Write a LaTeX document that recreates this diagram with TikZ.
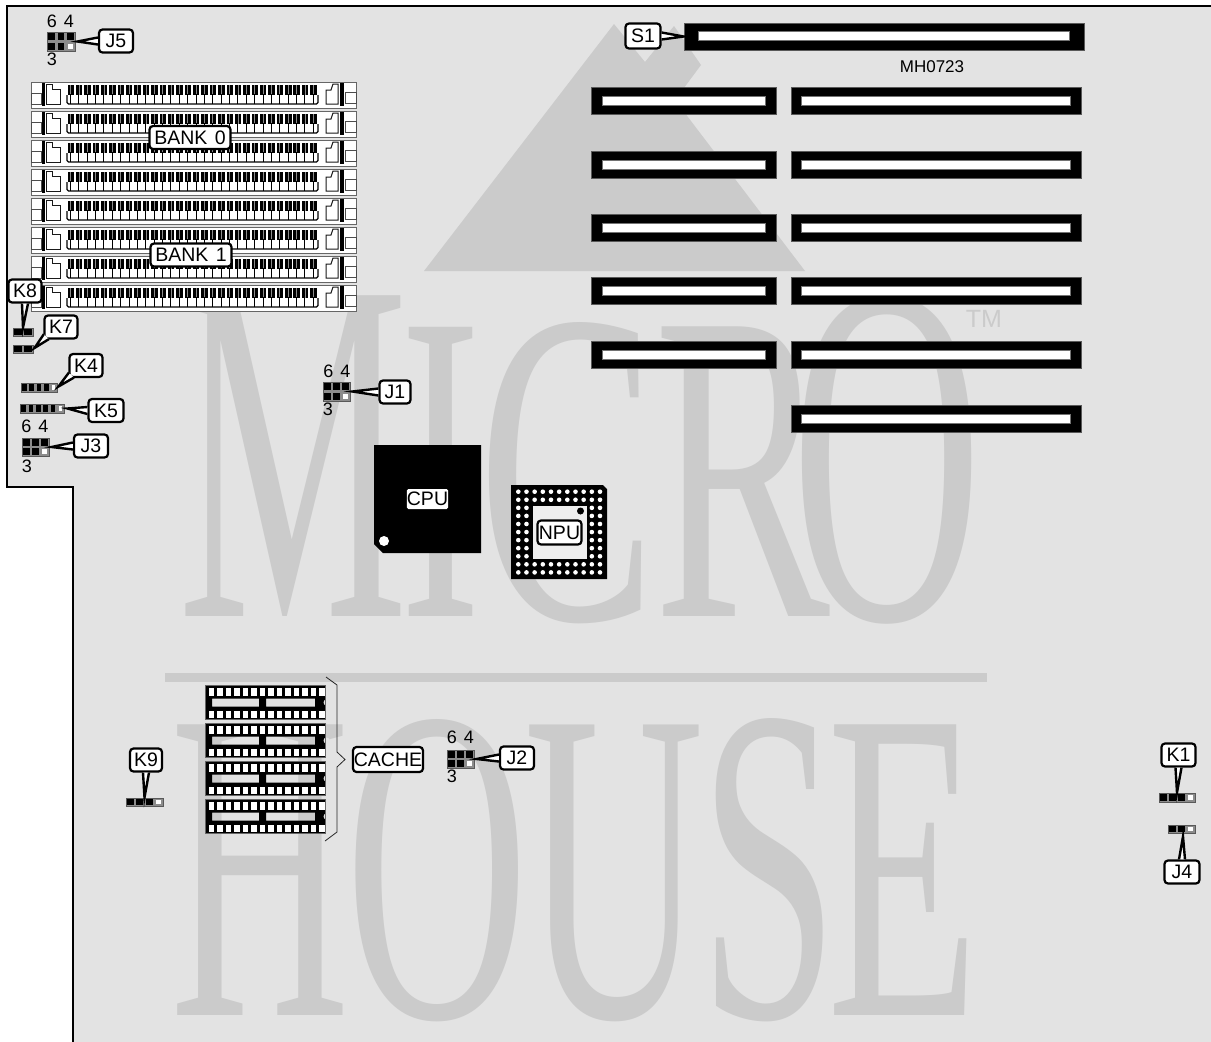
\documentclass[tikz,border=0pt]{standalone}
\usepackage{fontspec}
\setmainfont{Liberation Sans}
\newfontfamily\logofont{Liberation Serif}
\usetikzlibrary{calc}
\definecolor{board}{HTML}{E3E3E3}
\definecolor{wm}{HTML}{CBCBCB}
\tikzset{
  x=1pt,y=-1pt,
  lab/.style={draw=black,line width=2.2pt,rounded corners=3.5pt,fill=white,inner sep=0pt,
    font=\fontsize{19.5}{19.5}\selectfont,minimum height=23pt},
  tailp/.style={draw=black,fill=white,line width=2.4pt,line join=miter},
  digit/.style={inner sep=0pt,font=\fontsize{18}{18}\selectfont},
  slotbox/.style={draw=black!65,line width=.8pt,fill=black,inner sep=0pt},
  slotwin/.style={draw=black!55,line width=.5pt,fill=white,inner sep=0pt},
  jbody/.style={draw=black!65,line width=1pt,fill=black!45,inner sep=0pt},
  wmtext/.style={inner sep=0pt,text=wm},
}
\newcommand\calltail[3]{\path[tailp] ($(#1)+(#2)$) -- (#3) -- ($(#1)-(#2)$);}
% left edge, bottom, advance width, total height, letter, name
\newcommand\wmletter[6]{\node[wmtext,anchor=south west] (#6) at (#1,#2) {\resizebox*{#3pt}{#4pt}{\logofont #5}};}
% name, left, top, right, bottom, cols, rows, white last pin (1/0)
\newcommand\jumper[8]{%
  \node[jbody,minimum width=#4pt-#2pt,minimum height=#5pt-#3pt] (#1) at ({(#2+#4)/2},{(#3+#5)/2}) {};
  \pgfmathsetmacro\pw{(#4-#2)/#6}\pgfmathsetmacro\ph{(#5-#3)/#7}
  \foreach \c in {1,...,#6}{\foreach \r in {1,...,#7}{
    \pgfmathsetmacro\ax{#2+(\c-1)*\pw+1.2}\pgfmathsetmacro\ay{#3+(\r-1)*\ph+1.2}
    \pgfmathsetmacro\bx{#2+\c*\pw-1.2}\pgfmathsetmacro\by{#3+\r*\ph-1.2}
    \pgfmathsetmacro\lastpin{(\c==#6 && \r==#7 && #8==1) ? 1 : 0}
    \ifdim\lastpin pt>0pt \fill[white] ({\ax+.8},{\ay+.8}) rectangle ({\bx-.8},{\by-.8});
    \else \fill[black] (\ax,\ay) rectangle (\bx,\by);\fi
  }}}
\newcommand\simm[2]{%
  \node[draw=black!60,line width=.7pt,fill=white,minimum width=325pt,minimum height=26pt,inner sep=0pt] (#1) at (193.5,#2+13) {};
  \begin{scope}[shift={(0,#2-82)}]
    \draw[black!70,line width=.7pt,fill=white] (31,93) rectangle (41,104);
    \draw[black!70,line width=.7pt,fill=white] (345,92) rectangle (356,103);
    \fill[black] (41.5,83) rectangle (45,106);
    \fill[black] (340,83) rectangle (343.5,106);
    \draw[black!90,line width=1pt,fill=white] (46,84) -- (52,84) -- (52,89) -- (60,89) -- (60,104) -- (46,104) -- cycle;
    \draw[black!90,line width=1pt,fill=white] (338,84) -- (333,84) -- (331,90) -- (326,90) -- (326,104) -- (338,104) -- cycle;
    \foreach \i in {0,...,29}{
      \pgfmathsetmacro\px{67.5+\i*8.37}
      \fill[black] (\px,85) rectangle ++(6.4,10);
      \fill[black!45] ({\px+2.7},85) rectangle ++(.8,10);
      \draw[black,line width=1pt] ({\px+3},94) -- ({\px+3},104);
    }
    \draw[black,line width=1.1pt,rounded corners=1.5pt] (67,95) -- (67,104) -- (318,104) -- (318,95);
  \end{scope}}
\newcommand\cachechip[2]{%
  \begin{scope}[shift={(0,#2-685)}]
    \fill[black,even odd rule] (205.5,685) rectangle (325.5,719.5)
       (212,698.5) rectangle (259,706.5) (266,698.5) rectangle (315,706.5);
    \foreach \i in {0,...,13}{
      \pgfmathsetmacro\px{208.5+\i*8.5}
      \fill[white] (\px,688) rectangle ++(5.6,7.6);
      \fill[white] (\px,710.5) rectangle ++(5.6,7.6);
    }
    \fill[board] (326.5,702.5) circle (3);
  \end{scope}
  \node[draw=black!60,line width=.6pt,inner sep=0pt,minimum width=120pt,minimum height=34.5pt] (#1) at (265.5,#2+17.25) {};}
\begin{document}
\begin{tikzpicture}
\useasboundingbox (0,0) rectangle (1211,1042);
% board
\fill[white] (0,0) rectangle (1211,1042);
\fill[board] (7,6) -- (1211,6) -- (1211,1042) -- (73,1042) -- (73,487) -- (7,487) -- cycle;
% watermark
\fill[wm] (614,24) -- (645,62) -- (674,26) -- (701,65) -- (675,100) -- (805,271) -- (424,271) -- cycle;
\wmletter{177.9}{617}{229.8}{320}{M}{wm1}
\wmletter{400.6}{617}{80.7}{288.5}{I}{wm2}
\wmletter{478.5}{624}{177.5}{300}{C}{wm3}
\wmletter{654.5}{617}{175.6}{289}{R}{wm4}
\wmletter{791}{624}{191}{327}{O}{wm5}
\wmletter{170.3}{1016}{179.7}{290}{H}{wh1}
\wmletter{345.4}{1022}{183.3}{301}{O}{wh2}
\wmletter{524.5}{1022}{179.7}{296}{U}{wh3}
\wmletter{699.5}{1022}{138.7}{302}{S}{wh4}
\wmletter{827}{1016}{151.4}{290}{E}{wh5}
\fill[wm] (165,673) rectangle (987,682);
\node[wmtext,font=\fontsize{25}{25}\selectfont] (wtm) at (984,319) {TM};
% outline
\draw[black,line width=2pt] (1211,6) -- (7,6) -- (7,487) -- (73,487) -- (73,1042);
% slots
\node[slotbox,minimum width=400pt,minimum height=27pt] (s1) at (884,36.5) {};
\node[slotwin,minimum width=371pt,minimum height=9pt] (w1) at (883.5,36) {};
\foreach \n/\y in {a/87,b/151,c/214,d/277,e/341}{
  \node[slotbox,minimum width=185pt,minimum height=27pt] (sl\n) at (683.5,\y+13.5) {};
  \node[slotwin,minimum width=163pt,minimum height=9pt] (wl\n) at (683.5,\y+14) {};
}
\foreach \n/\y in {a/87,b/151,c/214,d/277,e/341,f/405}{
  \node[slotbox,minimum width=290pt,minimum height=27pt] (sr\n) at (936,\y+13.5) {};
  \node[slotwin,minimum width=269pt,minimum height=9pt] (wr\n) at (935.5,\y+14) {};
}
\node[inner sep=0pt,font=\fontsize{17}{17}\selectfont] (mh) at (932,67) {MH0723};
% SIMMs
\simm{m0}{82}\simm{m1}{111}\simm{m2}{140}\simm{m3}{169}\simm{m4}{198}\simm{m5}{227}\simm{m6}{256}\simm{m7}{285}
% CPU
\fill[black] (374,445) -- (481,445) -- (481,553) -- (383,553) -- (374,544) -- cycle;
\fill[white] (384,541) circle (5);
\node[fill=white,rounded corners=1.5pt,inner sep=0pt,minimum width=41pt,minimum height=20pt,font=\fontsize{19.5}{19.5}\selectfont] (cpu) at (427.5,499) {CPU};
% NPU
\fill[black] (511,485) -- (603,485) -- (607,489) -- (607,579) -- (511,579) -- cycle;
\foreach \c in {0,...,10}{\foreach \r in {0,...,10}{
  \pgfmathsetmacro\ring{(\c<2||\c>8||\r<2||\r>8)?1:0}
  \ifdim\ring pt>0pt \fill[white] ({518.3+\c*8.17},{491.7+\r*8.07}) circle (2.3);\fi
}}
\fill[board!60!white] (533,506) rectangle (587,559);
\fill[black] (580.5,511) circle (3.5);
\node[lab,minimum width=44pt,minimum height=24pt] (npu) at (559.5,532.5) {NPU};
% cache
\cachechip{c0}{685}
\cachechip{c1}{723}
\cachechip{c2}{761}
\cachechip{c3}{799}
\node[inner sep=0pt,minimum size=1pt] (bracetip) at (345,759.5) {};
\draw[black!85,line width=.8pt] (326,677) -- (337,685) -- (337,752) -- (bracetip.center) -- (337,767) -- (337,832) -- (325,841);
\node[lab,minimum width=70pt,minimum height=25pt] (lcache) at (388,759.5) {CACHE};
% jumpers
\jumper{j5}{47}{32}{75}{51}{3}{2}{1}
\jumper{j1}{323}{382}{350}{401}{3}{2}{1}
\jumper{j3}{22}{438}{49}{456}{3}{2}{1}
\jumper{j2}{447}{750}{474}{768}{3}{2}{1}
\jumper{k8}{13}{328}{33}{336}{2}{1}{0}
\jumper{k7}{13}{345}{33}{353}{2}{1}{0}
\jumper{k4}{21}{383}{57}{392}{5}{1}{1}
\jumper{k5}{20}{404}{64}{413}{6}{1}{1}
\jumper{k9}{126}{798}{163}{806}{4}{1}{1}
\jumper{k1}{1159}{793}{1195}{802}{4}{1}{1}
\jumper{j4}{1168}{825}{1195}{833}{3}{1}{1}
% digits
\node[digit] (d5a) at (60.5,21) {6\hspace{2pt} 4};
\node[digit] (d5b) at (52,59) {3};
\node[digit] (d1a) at (337,371) {6\hspace{2pt} 4};
\node[digit] (d1b) at (328,409) {3};
\node[digit] (d3a) at (35,426) {6\hspace{2pt} 4};
\node[digit] (d3b) at (27,466) {3};
\node[digit] (d2a) at (460.5,737) {6\hspace{2pt} 4};
\node[digit] (d2b) at (452,776) {3};
% labels
\node[lab,minimum width=34pt] (lj5) at (116,41) {J5};
\node[lab,minimum width=31pt] (lj1) at (395,392) {J1};
\node[lab,minimum width=34pt] (lj3) at (91,446) {J3};
\node[lab,minimum width=34pt] (lj2) at (517,758) {J2};
\node[lab,minimum width=33pt] (lk8) at (25,291) {K8};
\node[lab,minimum width=33pt] (lk7) at (61,327) {K7};
\node[lab,minimum width=33pt] (lk4) at (86,365.5) {K4};
\node[lab,minimum width=35pt] (lk5) at (106,410.5) {K5};
\node[lab,minimum width=32pt] (lk9) at (146,760) {K9};
\node[lab,minimum width=34pt] (lk1) at (1178.5,755) {K1};
\node[lab,minimum width=35pt] (lj4) at (1182,872) {J4};
\node[lab,minimum width=35pt,minimum height=25pt] (ls1) at (643,36) {S1};
\node[lab,minimum width=81pt] (lb0) at (190,137.5) {BANK\hspace{2pt} 0};
\node[lab,minimum width=81pt] (lb1) at (191,255) {BANK\hspace{2pt} 1};
% tails
\calltail{lj5.west}{0,3.5}{$(j5.east)+(2,0)$}
\calltail{lj1.west}{0,3.5}{$(j1.east)+(2,0)$}
\calltail{lj3.west}{0,3.5}{$(j3.east)+(2,0)$}
\calltail{lj2.west}{0,3.5}{$(j2.east)+(2,0)$}
\calltail{lk5.west}{0,3.5}{$(k5.east)+(3,0)$}
\calltail{ls1.east}{0,3.5}{s1.west}
\calltail{lk8.south}{3,0}{k8.north}
\calltail{lk9.south}{3,0}{k9.north}
\calltail{lk1.south}{3,0}{k1.north}
\calltail{lj4.north}{3,0}{$(j4.south)+(1.5,3)$}
\calltail{$(lk7.south west)+(3,-3)$}{2.5,2.5}{$(k7.east)+(1,-1)$}
\calltail{$(lk4.south west)+(3,-3)$}{2.5,2.5}{$(k4.east)+(1,-1)$}
\end{tikzpicture}
\end{document}
